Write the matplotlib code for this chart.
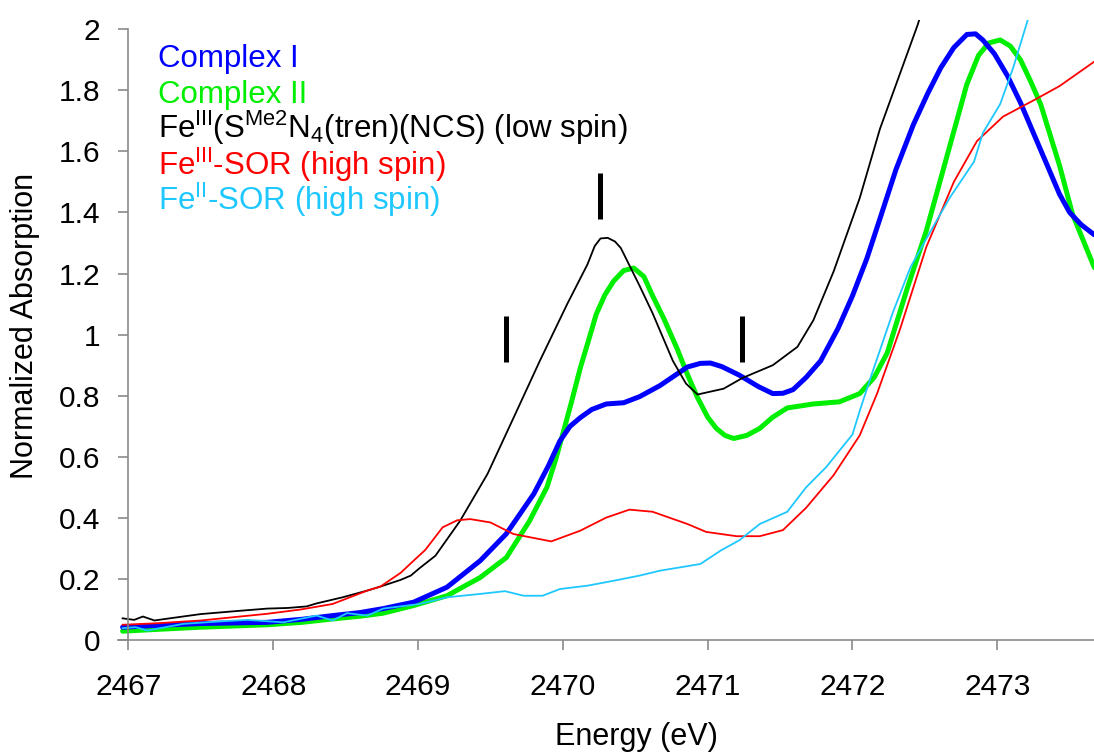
import matplotlib
matplotlib.use('Agg')
import matplotlib.pyplot as plt
from matplotlib.ticker import FormatStrFormatter

plt.rcParams['font.family'] = ['Liberation Sans', 'DejaVu Sans']
plt.rcParams['mathtext.fontset'] = 'custom'
plt.rcParams['mathtext.rm'] = 'Liberation Sans'
plt.rcParams['mathtext.it'] = 'Liberation Sans:italic'
plt.rcParams['mathtext.bf'] = 'Liberation Sans:bold'

# ---- data ----
e_c1 = [2466.96, 2467.2, 2467.5, 2467.96, 2468.2, 2468.41, 2468.6, 2468.76, 2468.97, 2469.2,
        2469.43, 2469.61, 2469.8, 2469.9, 2469.98, 2470.05, 2470.12, 2470.2, 2470.3, 2470.42,
        2470.53, 2470.67, 2470.86, 2470.95, 2471.02, 2471.1, 2471.22, 2471.35, 2471.45, 2471.52,
        2471.59, 2471.68, 2471.78, 2471.9, 2472.0, 2472.1, 2472.19, 2472.3, 2472.42, 2472.52,
        2472.61, 2472.7, 2472.79, 2472.85, 2472.9, 2472.98, 2473.07, 2473.16, 2473.25, 2473.34,
        2473.43, 2473.5, 2473.58, 2473.67]
a_c1 = [0.042, 0.048, 0.054, 0.058, 0.068, 0.08, 0.09, 0.103, 0.124, 0.173,
        0.26, 0.348, 0.479, 0.57, 0.652, 0.70, 0.728, 0.755, 0.773, 0.777,
        0.797, 0.833, 0.894, 0.906, 0.907, 0.895, 0.867, 0.83, 0.807, 0.808,
        0.82, 0.86, 0.914, 1.02, 1.127, 1.25, 1.38, 1.54, 1.687, 1.79,
        1.874, 1.94, 1.983, 1.985, 1.965, 1.92, 1.848, 1.76, 1.66, 1.56,
        1.46, 1.40, 1.36, 1.327]

e_c2 = [2466.96, 2467.2, 2467.5, 2467.96, 2468.2, 2468.41, 2468.6, 2468.76, 2468.97, 2469.2,
        2469.43, 2469.61, 2469.77, 2469.89, 2469.95, 2470.0, 2470.06, 2470.12, 2470.18, 2470.23,
        2470.29, 2470.35, 2470.42, 2470.49, 2470.56, 2470.62, 2470.7, 2470.79, 2470.86, 2470.93,
        2471.0, 2471.06, 2471.12, 2471.18, 2471.27, 2471.36, 2471.45, 2471.55, 2471.73, 2471.91,
        2472.05, 2472.15, 2472.24, 2472.38, 2472.51, 2472.65, 2472.79, 2472.87, 2472.94, 2473.02,
        2473.09, 2473.16, 2473.23, 2473.3, 2473.43, 2473.52, 2473.67]
a_c2 = [0.029, 0.035, 0.042, 0.05, 0.058, 0.069, 0.078, 0.088, 0.113, 0.145,
        0.205, 0.27, 0.39, 0.5, 0.59, 0.675, 0.78, 0.89, 0.985, 1.066,
        1.13, 1.175, 1.21, 1.218, 1.19, 1.127, 1.05, 0.953, 0.87, 0.794,
        0.73, 0.693, 0.67, 0.66, 0.67, 0.693, 0.73, 0.76, 0.773, 0.78,
        0.807, 0.86, 0.94, 1.154, 1.34, 1.58, 1.82, 1.914, 1.955, 1.965,
        1.945, 1.90, 1.83, 1.754, 1.554, 1.394, 1.22]

e_ls = [2466.96, 2467.04, 2467.10, 2467.18, 2467.3, 2467.5, 2467.75, 2467.96, 2468.1, 2468.23,
        2468.3, 2468.48, 2468.65, 2468.74, 2468.88, 2468.95, 2469.01, 2469.12, 2469.29, 2469.48,
        2469.66, 2469.84, 2470.03, 2470.17, 2470.22, 2470.26, 2470.31, 2470.36, 2470.40, 2470.53,
        2470.62, 2470.76, 2470.85, 2470.93, 2471.11, 2471.24, 2471.45, 2471.62, 2471.73, 2471.87,
        2472.05, 2472.19, 2472.45, 2472.5]
a_ls = [0.071, 0.066, 0.077, 0.064, 0.072, 0.085, 0.095, 0.103, 0.105, 0.11,
        0.12, 0.14, 0.162, 0.175, 0.197, 0.211, 0.235, 0.276, 0.39, 0.544,
        0.728, 0.913, 1.10, 1.23, 1.29, 1.315, 1.317, 1.305, 1.284, 1.16,
        1.07, 0.914, 0.84, 0.804, 0.823, 0.858, 0.90, 0.96, 1.047, 1.207,
        1.447, 1.674, 2.014, 2.09]

e_f3 = [2466.96, 2467.2, 2467.5, 2467.96, 2468.19, 2468.41, 2468.65, 2468.74, 2468.88, 2468.97,
        2469.05, 2469.17, 2469.27, 2469.36, 2469.5, 2469.66, 2469.92, 2470.12, 2470.3, 2470.46,
        2470.62, 2470.86, 2470.99, 2471.2, 2471.36, 2471.52, 2471.68, 2471.87, 2472.05, 2472.17,
        2472.33, 2472.51, 2472.7, 2472.86, 2473.04, 2473.25, 2473.43, 2473.67]
a_f3 = [0.05, 0.055, 0.064, 0.086, 0.10, 0.118, 0.162, 0.175, 0.22, 0.26,
        0.295, 0.369, 0.392, 0.396, 0.385, 0.347, 0.323, 0.358, 0.401, 0.427,
        0.42, 0.38, 0.354, 0.34, 0.34, 0.36, 0.433, 0.54, 0.67, 0.807,
        1.02, 1.287, 1.50, 1.634, 1.714, 1.767, 1.814, 1.894]

e_f2 = [2466.96, 2467.05, 2467.13, 2467.38, 2467.6, 2467.82, 2468.07, 2468.3, 2468.41, 2468.51,
        2468.65, 2468.76, 2469.01, 2469.2, 2469.43, 2469.6, 2469.73, 2469.86, 2469.98, 2470.17,
        2470.35, 2470.53, 2470.67, 2470.95, 2471.09, 2471.22, 2471.36, 2471.55, 2471.68, 2471.82,
        2472.0, 2472.05, 2472.14, 2472.28, 2472.4, 2472.51, 2472.67, 2472.84, 2472.9, 2473.02,
        2473.11, 2473.2, 2473.25]
a_f2 = [0.039, 0.042, 0.031, 0.053, 0.06, 0.066, 0.058, 0.08, 0.064, 0.088,
        0.08, 0.103, 0.118, 0.14, 0.151, 0.16, 0.145, 0.145, 0.167, 0.178,
        0.194, 0.211, 0.227, 0.249, 0.293, 0.327, 0.38, 0.42, 0.5, 0.567,
        0.673, 0.75, 0.88, 1.074, 1.22, 1.314, 1.447, 1.567, 1.66, 1.755,
        1.874, 2.014, 2.09]

# feature markers (vertical bars)
bar_e = [2469.61, 2470.26, 2471.24]
bar_lo = [0.912, 1.378, 0.912]
bar_hi = [1.062, 1.528, 1.062]

labels = ['Complex I', 'Complex II',
          r'Fe$^{\mathrm{III}}$(S$^{\mathrm{Me2}}$N$_{\mathrm{4}}$(tren)(NCS) (low spin)',
          r'Fe$^{\mathrm{III}}$-SOR (high spin)',
          r'Fe$^{\mathrm{II}}$-SOR (high spin)']
colors = ['#0000ff', '#00ee00', '#000000', '#ff0000', '#1ec8ff']

# ---- chart ----
fig = plt.figure(figsize=(10.94, 7.56), dpi=100)
ax = fig.add_axes([0.1081, 0.1534, 0.8919, 0.82])

ax.plot(e_c2, a_c2, color=colors[1], lw=3.6, solid_capstyle='round', solid_joinstyle='round')
ax.plot(e_c1, a_c1, color=colors[0], lw=3.6, solid_capstyle='round', solid_joinstyle='round')
ax.plot(e_ls, a_ls, color=colors[2], lw=1.3)
ax.plot(e_f3, a_f3, color=colors[3], lw=1.3)
ax.plot(e_f2, a_f2, color=colors[4], lw=1.3)
ax.vlines(bar_e, bar_lo, bar_hi, colors='k', lw=3.6)

ax.set_xlim(2466.93, 2473.668)
ax.set_ylim(0, 2.03)
for s in ['top', 'right']:
    ax.spines[s].set_visible(False)
ax.spines['left'].set_position(('data', 2467))
ax.spines['left'].set_bounds(0, 2)
for s in ['left', 'bottom']:
    ax.spines[s].set_color('#8a8a8a')
    ax.spines[s].set_linewidth(1.2)

ax.set_xticks(range(2467, 2474))
ax.set_yticks([i * 0.2 for i in range(11)])
ax.yaxis.set_major_formatter(FormatStrFormatter('%g'))
ax.tick_params(axis='both', direction='out', length=7, width=1.2, color='#8a8a8a',
               labelsize=21.5, labelcolor='k')
ax.tick_params(axis='x', pad=17)
ax.tick_params(axis='y', pad=13)

fig.text(25 / 1094, 1 - 326 / 756, 'Normalized Absorption', rotation=90,
         ha='center', va='center', fontsize=22)
fig.text(636.5 / 1094, 1 - 745 / 756, 'Energy (eV)', ha='center', va='baseline', fontsize=22)

base_y = [66.7, 102.7, 138.3, 175, 210]
for lab, c, by in zip(labels, colors, base_y):
    fig.text(158.3 / 1094, 1 - by / 756, lab, color=c, ha='left', va='baseline', fontsize=22.5)

fig.savefig('out.png', dpi=100)
